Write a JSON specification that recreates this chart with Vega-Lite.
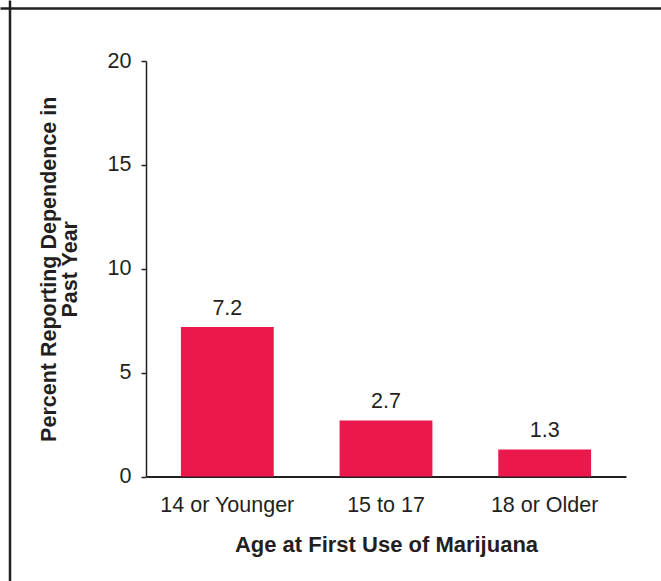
{
  "$schema": "https://vega.github.io/schema/vega-lite/v6.json",
  "autosize": {"type": "none"},
  "padding": {"left": 9.5, "top": 8, "right": 0, "bottom": 0},
  "width": 651.5,
  "height": 573,
  "background": "white",
  "data": {"values": [
    {"age": "14 or Younger", "percent": 7.2},
    {"age": "15 to 17", "percent": 2.7},
    {"age": "18 or Older", "percent": 1.3}
  ]},
  "layer": [
    {
      "encoding": {
        "x": {
          "field": "age", "type": "nominal", "sort": null,
          "scale": {"range": [136.5, 616.5], "paddingInner": 0.415, "paddingOuter": 0.22},
          "axis": {
            "title": "Age at First Use of Marijuana",
            "orient": "bottom", "offset": -104.5,
            "labelAngle": 0, "ticks": false, "tickSize": 0, "labelPadding": 18,
            "labelFontSize": 21.5, "titleFontSize": 22, "titlePadding": 18,
            "domainWidth": 2
          }
        },
        "y": {
          "field": "percent", "type": "quantitative",
          "scale": {"domain": [0, 20], "range": [468.5, 53], "nice": false},
          "axis": {
            "title": ["Percent Reporting Dependence in", "Past Year"],
            "orient": "left", "offset": -136.5,
            "values": [0, 5, 10, 15, 20], "grid": false,
            "tickSize": 5, "labelPadding": 10,
            "labelFontSize": 21.5, "titleFontSize": 21.5, "titlePadding": 26,
            "titleLineHeight": 21, "domainWidth": 1.5, "tickWidth": 1.5
          }
        }
      },
      "layer": [
        {"mark": {"type": "bar", "color": "#ec174b"}},
        {
          "mark": {"type": "text", "baseline": "alphabetic", "dy": -12, "fontSize": 21.5, "color": "#231f20", "font": "Liberation Sans"},
          "encoding": {"text": {"field": "percent", "type": "quantitative", "format": ".1f"}}
        }
      ]
    },
    {
      "mark": {"type": "point", "opacity": 0, "clip": true},
      "encoding": {
        "x": {
          "field": "percent", "type": "quantitative",
          "scale": {"domain": [0, 1], "range": [-9.5, 652], "nice": false, "zero": false},
          "axis": {"orient": "top", "offset": 0, "title": null, "labels": false, "ticks": false, "grid": false, "domainWidth": 2.5, "domainCap": "butt"}
        },
        "y": {
          "field": "percent", "type": "quantitative",
          "scale": {"domain": [0, 1], "range": [574, -8], "nice": false, "zero": false},
          "axis": {"orient": "left", "offset": 0, "title": null, "labels": false, "ticks": false, "grid": false, "domainWidth": 2.5, "domainCap": "butt"}
        }
      }
    }
  ],
  "resolve": {"scale": {"x": "independent", "y": "independent"}, "axis": {"x": "independent", "y": "independent"}},
  "config": {
    "view": {"stroke": null, "fill": null},
    "font": "Liberation Sans",
    "axis": {
      "labelFont": "Liberation Sans", "titleFont": "Liberation Sans",
      "labelColor": "#231f20", "titleColor": "#231f20",
      "domainColor": "#231f20", "tickColor": "#231f20",
      "titleFontWeight": "bold", "labelFontWeight": "normal"
    }
  }
}
